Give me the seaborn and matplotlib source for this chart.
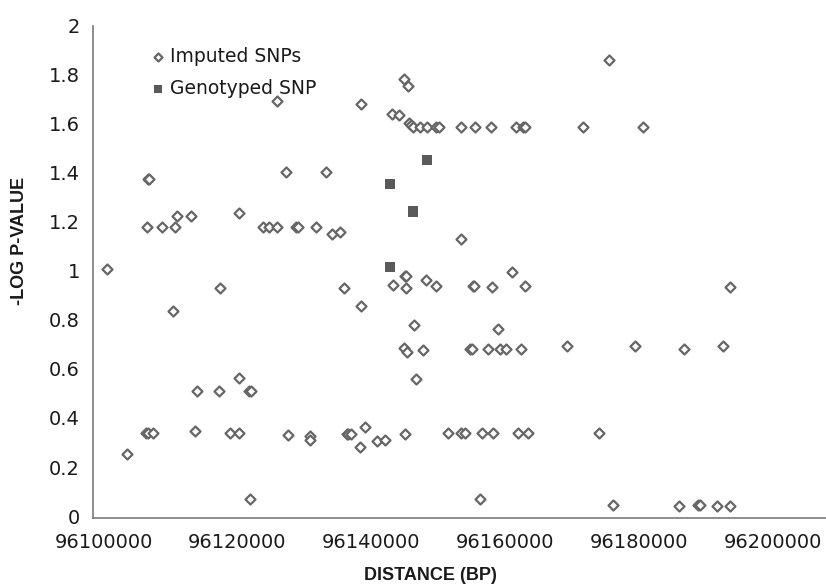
import pandas as pd
import matplotlib.pyplot as plt
import seaborn as sns
from matplotlib.ticker import FuncFormatter

# ==========================
# DATA
# ==========================

imputed_pos = [
    96100570, 96103460, 96106540, 96108730, 96110720, 96106600, 96106800,
    96111000, 96113060, 96120220, 96123850, 96124700, 96125940, 96128800,
    96129000, 96131720, 96134150, 96135300, 96125940, 96127300, 96133200,
    96144850, 96145450, 96138480, 96143160, 96144150, 96145640, 96145940,
    96146240, 96147240, 96148330, 96149730, 96150120, 96153400, 96155550,
    96157940, 96161570, 96162660, 96162900, 96171570, 96180570, 96175550,
    96153400, 96161000, 96145000, 96145200, 96143250, 96145150, 96148130,
    96149630, 96155200, 96155400, 96158030, 96162960, 96193610, 96117430,
    96135940, 96110370, 96138480, 96146340, 96158930, 96144950, 96145340,
    96147670, 96154700, 96155100, 96157490, 96159180, 96160180, 96162310,
    96169220, 96179430, 96192510, 96186640, 96120180, 96146750, 96113910,
    96117190, 96121800, 96122100, 96106300, 96106600, 96107430, 96113610,
    96118880, 96120180, 96127490, 96130820, 96130820, 96136300, 96136540,
    96136900, 96139130, 96138280, 96140870, 96142060, 96144960, 96151520,
    96153360, 96153960, 96156600, 96158180, 96161910, 96163360, 96173960,
    96121870, 96156240, 96176090, 96185940, 96188800, 96189100, 96191670,
    96193510,
]
imputed_logp = [
    1.008, 0.252, 1.180, 1.180, 1.180, 1.374, 1.374,
    1.222, 1.224, 1.236, 1.180, 1.180, 1.180, 1.180,
    1.180, 1.180, 1.150, 1.157, 1.693, 1.403, 1.403,
    1.782, 1.754, 1.681, 1.640, 1.636, 1.602, 1.595,
    1.587, 1.587, 1.587, 1.587, 1.587, 1.587, 1.587,
    1.587, 1.587, 1.587, 1.587, 1.587, 1.587, 1.859,
    1.130, 0.994, 0.980, 0.980, 0.943, 0.929, 0.961,
    0.937, 0.937, 0.937, 0.934, 0.937, 0.933, 0.932,
    0.932, 0.837, 0.855, 0.778, 0.763, 0.687, 0.671,
    0.676, 0.682, 0.682, 0.680, 0.680, 0.680, 0.680,
    0.692, 0.692, 0.692, 0.680, 0.562, 0.558, 0.508,
    0.508, 0.508, 0.508, 0.337, 0.337, 0.340, 0.346,
    0.340, 0.340, 0.332, 0.326, 0.312, 0.333, 0.333,
    0.333, 0.363, 0.283, 0.308, 0.312, 0.333, 0.337,
    0.337, 0.337, 0.337, 0.337, 0.340, 0.340, 0.337,
    0.068, 0.068, 0.044, 0.041, 0.044, 0.044, 0.042,
    0.042,
]

genotyped_pos = [96148280, 96142760, 96146190, 96142760]
genotyped_logp = [1.453, 1.355, 1.242, 1.016]

x_ticks = [96100000, 96120000, 96140000, 96160000, 96180000, 96200000]
y_ticks = [0, 0.2, 0.4, 0.6, 0.8, 1.0, 1.2, 1.4, 1.6, 1.8, 2.0]

imp = pd.DataFrame({"pos": imputed_pos, "logp": imputed_logp})
gen = pd.DataFrame({"pos": genotyped_pos, "logp": genotyped_logp})

# ==========================
# FIGURE
# ==========================

sns.set_style("white")
plt.rcParams["font.family"] = ["DejaVu Sans"]

fig = plt.figure(figsize=(8.26, 5.84), dpi=100)
ax = fig.add_axes([0.112, 0.113, 0.888, 0.843])

sns.scatterplot(
    data=imp, x="pos", y="logp",
    marker="D", s=26, facecolor="white",
    edgecolor="#666666", linewidth=1.6,
    label="Imputed SNPs", ax=ax
)

sns.scatterplot(
    data=gen, x="pos", y="logp",
    marker="s", s=56, color="#5a5a5a",
    edgecolor="none", linewidth=0,
    label="Genotyped SNP", ax=ax
)

ax.set_xlim(96098357, 96207916)
ax.set_ylim(-0.008, 2.0)
ax.set_xticks(x_ticks)
ax.set_yticks(y_ticks)
ax.xaxis.set_major_formatter(FuncFormatter(lambda v, p: f"{int(v)}"))
ax.yaxis.set_major_formatter(FuncFormatter(lambda v, p: f"{v:g}"))
ax.tick_params(axis="both", length=0, labelsize=14, colors="#1a1a1a")
ax.tick_params(axis="x", pad=11)
ax.tick_params(axis="y", pad=9)

for side in ["top", "right"]:
    ax.spines[side].set_visible(False)
for side in ["left", "bottom"]:
    ax.spines[side].set_color("#858585")
    ax.spines[side].set_linewidth(1.3)

ax.set_xlabel("")
ax.set_ylabel("")

# axis titles placed like the original (off-centre)
fig.text(430 / 826, 1 - 575.7 / 584, "DISTANCE (BP)",
         ha="center", va="center", fontsize=13, fontweight="bold",
         family=["Liberation Sans Narrow", "Liberation Sans", "DejaVu Sans"],
         color="#1a1a1a")
fig.text(20 / 826, 1 - 241 / 584, "-LOG P-VALUE",
         ha="center", va="center", rotation=90, fontsize=13,
         fontweight="bold",
         family=["Liberation Sans Narrow", "Liberation Sans", "DejaVu Sans"],
         color="#1a1a1a")

leg = ax.legend(
    loc="upper left", bbox_to_anchor=(0.071, 0.972),
    frameon=False, fontsize=13.5, handlelength=0.6,
    handletextpad=0.35, labelspacing=0.7, borderaxespad=0,
    markerscale=0.8
)
for t in leg.get_texts():
    t.set_color("#1a1a1a")

plt.savefig("out.png", dpi=100)
plt.close()
